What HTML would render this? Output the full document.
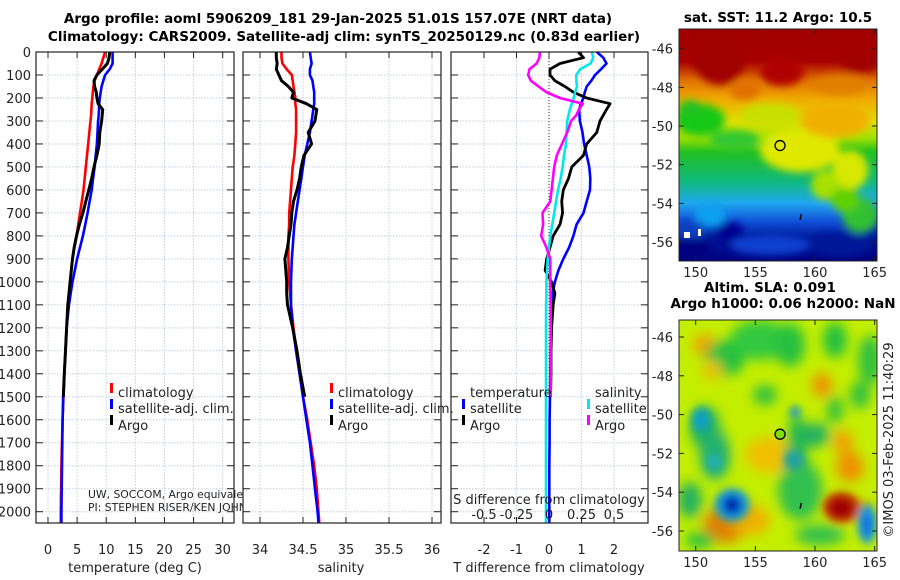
<!DOCTYPE html>
<html><head><meta charset="utf-8">
<style>
body{margin:0;background:#fff;}
svg{display:block;font-family:"DejaVu Sans","Liberation Sans",sans-serif;}
.t{font-size:13px;fill:#222;}
.b{font-size:13.5px;font-weight:bold;fill:#000;}
</style></head>
<body>
<svg id="fig" width="900" height="580" viewBox="0 0 900 580">
<defs>
<linearGradient id="sstg" x1="0" y1="0" x2="0" y2="1">
<stop offset="0" stop-color="#a00000"/><stop offset="0.14" stop-color="#a80000"/>
<stop offset="0.22" stop-color="#e07000"/><stop offset="0.3" stop-color="#f0a800"/>
<stop offset="0.4" stop-color="#e0e000"/><stop offset="0.47" stop-color="#a0e000"/>
<stop offset="0.53" stop-color="#20c020"/><stop offset="0.66" stop-color="#10b880"/>
<stop offset="0.75" stop-color="#20a8f0"/><stop offset="0.83" stop-color="#1050d8"/>
<stop offset="0.9" stop-color="#001898"/><stop offset="1" stop-color="#000080"/>
</linearGradient>
<filter id="blur4"><feGaussianBlur stdDeviation="4"/></filter>
<filter id="blur6"><feGaussianBlur stdDeviation="6"/></filter>
<clipPath id="clipA"><rect x="679" y="29" width="198" height="232"/></clipPath>
<clipPath id="clipB"><rect x="679" y="320" width="198" height="231"/></clipPath>
<clipPath id="clipCredit"><rect x="0" y="480" width="243" height="40"/></clipPath>
</defs>
<text class="b" x="338" y="23" text-anchor="middle">Argo profile: aoml 5906209_181 29-Jan-2025 51.01S 157.07E (NRT data)</text>
<text class="b" x="344" y="41" text-anchor="middle">Climatology: CARS2009. Satellite-adj clim: synTS_20250129.nc (0.83d earlier)</text>
<g id="plots"></g>
<g id="maps"></g>
</svg>
<script>
// ---- profile data (depth grid shared by all series) ----
const depths = [0,25,50,75,100,125,150,175,200,225,250,275,300,350,400,450,500,550,600,650,700,750,800,850,900,950,1000,1050,1100,1200,1300,1400,1500,1600,1700,1800,1900,2000,2050];
const tempClim = [9.8,9.5,9.2,8.8,8.4,8.0,7.8,7.7,7.6,7.5,7.45,7.4,7.3,7.1,6.9,6.7,6.5,6.3,6.1,5.8,5.5,5.2,4.9,4.5,4.2,4.0,3.8,3.65,3.5,3.2,3.0,2.8,2.6,2.5,2.4,2.3,2.25,2.2,2.2];
const tempSat = [11.1,11.1,11.1,10.6,9.8,9.5,9.2,9.05,8.9,8.8,8.75,8.7,8.6,8.5,8.4,8.2,8.0,7.75,7.5,7.15,6.8,6.4,6.0,5.5,5.0,4.6,4.2,3.9,3.6,3.2,3.0,2.8,2.65,2.5,2.45,2.4,2.35,2.3,2.3];
const tempArgo = [10.6,10.5,10.2,9.3,8.4,7.9,8.0,8.3,8.4,8.6,9.4,9.3,9.2,8.9,8.8,8.4,7.9,7.5,7.0,6.5,6.0,5.4,4.9,4.5,4.2,4.0,3.8,3.6,3.4,3.2,3.0,2.8,2.65,null,null,null,null,null,null];
const salClim = [34.25,34.25,34.26,34.31,34.37,34.38,34.39,34.40,34.41,34.41,34.42,34.42,34.42,34.42,34.41,34.40,34.38,34.37,34.36,34.35,34.34,34.34,34.33,34.33,34.33,34.335,34.34,34.35,34.36,34.39,34.42,34.46,34.50,34.55,34.59,34.63,34.66,34.68,34.69];
const salSat = [34.58,34.59,34.60,34.58,34.58,34.61,34.62,34.63,34.63,34.63,34.62,34.61,34.60,34.58,34.55,34.52,34.50,34.48,34.46,34.44,34.42,34.40,34.39,34.38,34.37,34.365,34.36,34.36,34.36,34.38,34.42,34.46,34.50,34.54,34.58,34.61,34.64,34.67,34.68];
const salArgo = [34.19,34.19,34.20,34.19,34.22,34.25,34.33,34.39,34.37,34.54,34.66,34.65,34.64,34.56,34.60,34.51,34.48,34.46,34.43,34.39,34.37,34.36,34.34,34.32,34.29,34.30,34.31,34.31,34.32,34.38,34.43,34.47,34.52,null,null,null,null,null,null];
// differences from climatology (as plotted)
const diffTSat = [1.47,1.67,1.77,1.6,1.42,1.3,1.16,1.1,1.06,0.98,0.93,0.94,0.95,1.03,1.08,1.16,1.24,1.27,1.26,1.16,1.06,0.85,0.75,0.62,0.44,0.29,0.18,0.11,0.08,0.06,0.05,0.04,0.03,0.02,0.02,0.01,0.01,0.01,0.01];
const diffTArgo = [0.9,1.06,0.34,0.03,0.03,0.18,0.49,0.75,1.16,1.88,1.77,1.67,1.57,1.47,1.16,1.06,0.70,0.6,0.44,0.39,0.42,0.34,0.13,0.03,-0.07,-0.12,0.08,0.18,0.13,0.08,0.06,0.06,0.05,null,null,null,null,null,null];
const diffSSat = [0.33,0.34,0.32,0.24,0.21,0.21,0.215,0.2,0.19,0.175,0.16,0.15,0.14,0.135,0.13,0.115,0.105,0.09,0.07,0.055,0.04,0.025,0.01,0.0,-0.01,-0.015,-0.02,-0.02,-0.022,-0.023,-0.023,-0.023,-0.023,-0.023,-0.023,-0.023,-0.023,-0.023,-0.023];
const diffSArgo = [-0.07,-0.075,-0.095,-0.15,-0.16,-0.14,-0.08,-0.02,0.085,0.26,0.23,0.21,0.17,0.14,0.1,0.06,0.04,0.03,0.02,0.01,-0.05,-0.045,-0.06,-0.02,0.01,0.01,0.01,0.012,0.013,0.013,0.013,0.013,0.013,null,null,null,null,null,null];
const depthTicks = [0,100,200,300,400,500,600,700,800,900,1000,1100,1200,1300,1400,1500,1600,1700,1800,1900,2000];
const tempTicks = [0,5,10,15,20,25,30];
const salTicks = [34,34.5,35,35.5,36];
const salTickLabels = ["34","34.5","35","35.5","36"];
const diffTTicks = [-2,-1,0,1,2];
const diffSTicks = [-0.5,-0.25,0,0.25,0.5];
const diffSTickLabels = ["-0.5","-0.25","0","0.25","0.5"];

const NS="http://www.w3.org/2000/svg";
const G=document.getElementById('plots');
function el(tag,attrs,parent){const e=document.createElementNS(NS,tag);for(const k in attrs)e.setAttribute(k,attrs[k]);(parent||G).appendChild(e);return e;}
const yD = d => 52 + d*0.22985;
const Y0=52, Y1=523;
const xT = v => 48 + v*5.823;
const xS = v => 260 + (v-34)*86;
const xDT = v => 549 + v*32.5;
const xDS = v => 549 + v*130;

function panel(x0,x1,name,xticks,xf,labels,vline){
  const g=el('g',{});
  
  
  el('rect',{x:x0,y:Y0,width:x1-x0,height:Y1-Y0,fill:'#fff'},g);
  depthTicks.forEach(d=>{
    el('line',{x1:x0,x2:x1,y1:yD(d),y2:yD(d),stroke:'#c8cde0','stroke-width':1,'stroke-dasharray':'1.5,1.5'},g);
    el('line',{x1:x0,x2:x0+7,y1:yD(d),y2:yD(d),stroke:'#222','stroke-width':1},g);
    el('line',{x1:x1-7,x2:x1,y1:yD(d),y2:yD(d),stroke:'#222','stroke-width':1},g);
  });
  xticks.forEach((v,i)=>{
    const x=xf(v);
    el('line',{x1:x,x2:x,y1:Y0,y2:Y1,stroke:'#c8cde0','stroke-width':1,'stroke-dasharray':'1.5,1.5'},g);
    el('line',{x1:x,x2:x,y1:Y1-6,y2:Y1,stroke:'#222'},g);
    el('line',{x1:x,x2:x,y1:Y0,y2:Y0+6,stroke:'#222'},g);
    const t=el('text',{x:x,y:554,'text-anchor':'middle',class:'t'},g);
    t.textContent=labels?labels[i]:String(v);
    
    
  });
  if(vline) el('line',{x1:xf(0),x2:xf(0),y1:Y0,y2:Y1,stroke:'#333','stroke-width':1,'stroke-dasharray':'1,2'},g);
  return g;
}
function series(vals,xf,color,name,w){
  let d='',pen=false;
  vals.forEach((v,i)=>{
    if(v===null||v===undefined){pen=false;return;}
    d+=(pen?'L':'M')+xf(v).toFixed(1)+','+yD(depths[i]).toFixed(1);pen=true;
  });
  const p=el('path',{d:d,fill:'none',stroke:color,'stroke-width':w||2.6,'stroke-linejoin':'round'});
  
  
}
function frame(x0,x1){el('rect',{x:x0,y:Y0,width:x1-x0,height:Y1-Y0,fill:'none',stroke:'#222','stroke-width':1.2});}
function txt(x,y,s,name,anchor,cls,parent){const t=el('text',{x:x,y:y,class:cls||'t','text-anchor':anchor||'start'},parent);t.textContent=s;return t;}
function legMark(x,y,color){const r=el('rect',{x:x,y:y-9,width:3,height:10,fill:color});}

// panel 1 temperature
panel(36,234,'temperature-panel',tempTicks,xT);
depthTicks.forEach(d=>{txt(31,yD(d)+5,String(d),'y-tick-label','end');});
series(tempClim,xT,'#ff0000','temp-climatology-line');
series(tempSat,xT,'#0000ff','temp-satellite-line');
series(tempArgo,xT,'#000000','temp-argo-line',3);
frame(36,234);
txt(135,572,'temperature (deg C)','x-axis-title-temperature','middle');
legMark(110,392,'#ff0000');txt(118,397,'climatology','legend-climatology');
legMark(110,408,'#0000ff');txt(118,413,'satellite-adj. clim.','legend-satellite');
legMark(110,424,'#000000');txt(118,430,'Argo','legend-argo');
const cg=el('g',{'clip-path':'url(#clipCredit)'});
const c1=txt(88,498,'UW, SOCCOM, Argo equivalent','credit-line-1','start','t',cg);c1.style.fontSize='10.8px';
const c2=txt(88,511,'PI: STEPHEN RISER/KEN JOHNSON','credit-line-2','start','t',cg);c2.style.fontSize='10.8px';

// panel 2 salinity
panel(243,441,'salinity-panel',salTicks,xS,salTickLabels);
series(salClim,xS,'#ff0000','sal-climatology-line');
series(salSat,xS,'#0000ff','sal-satellite-line');
series(salArgo,xS,'#000000','sal-argo-line',3);
frame(243,441);
txt(341,572,'salinity','x-axis-title-salinity','middle');

// panel 3 differences
panel(451,648,'difference-panel',diffTTicks,xDT,null,true);
series(diffTSat,xDT,'#0000ff','diff-temp-satellite-line');
series(diffTArgo,xDT,'#000000','diff-temp-argo-line',2.8);
series(diffSSat,xDS,'#00e8e8','diff-sal-satellite-line');
series(diffSArgo,xDS,'#ff00ff','diff-sal-argo-line');
frame(451,648);
legMark(330,392,'#ff0000');txt(338,397,'climatology','legend-climatology-2');
legMark(330,408,'#0000ff');txt(338,413,'satellite-adj. clim.','legend-satellite-2');
legMark(330,424,'#000000');txt(338,430,'Argo','legend-argo-2');
txt(470,397,'temperature','legend-temperature-heading');
legMark(462,408,'#0000ff');txt(470,413,'satellite','legend-diff-temp-satellite');
legMark(462,424,'#000000');txt(470,430,'Argo','legend-diff-temp-argo');
txt(595,397,'salinity','legend-salinity-heading');
legMark(587,408,'#00e8e8');txt(595,413,'satellite','legend-diff-sal-satellite');
legMark(587,424,'#ff00ff');txt(595,430,'Argo','legend-diff-sal-argo');
txt(549,504,'S difference from climatology','s-diff-axis-title','middle');
diffSTicks.forEach((v,i)=>{txt(xDS(v),519,diffSTickLabels[i],'s-diff-tick-label','middle');});
txt(549,572,'T difference from climatology','t-diff-axis-title','middle');

// ---- maps ----
const M=document.getElementById('maps');
const lonTicks=[150,155,160,165];
const latTicks=[-46,-48,-50,-52,-54,-56];
const mxF = lon => 679 + (lon-148.6)*11.93;
function mapAxes(y0,y1,latf,name){
  const g=el('g',{},M);
  
  
  el('rect',{x:679,y:y0,width:198,height:y1-y0,fill:'none',stroke:'#222','stroke-width':1},g);
  latTicks.forEach(l=>{const y=latf(l);
    el('line',{x1:679,x2:684,y1:y,y2:y,stroke:'#222'},g);el('line',{x1:872,x2:877,y1:y,y2:y,stroke:'#222'},g);
    const t=el('text',{x:673,y:y+5,'text-anchor':'end',class:'t'},g);t.textContent=String(l);
    });
  lonTicks.forEach(l=>{const x=mxF(l);
    el('line',{x1:x,x2:x,y1:y1-5,y2:y1,stroke:'#222'},g);el('line',{x1:x,x2:x,y1:y0,y2:y0+5,stroke:'#222'},g);
    const t=el('text',{x:x,y:y1+16,'text-anchor':'middle',class:'t'},g);t.textContent=String(l);
    });
}
// SST map
const myA = lat => 48.7 + (-46-lat)*19.33;
const gA=el('g',{'clip-path':'url(#clipA)'},M);


el('rect',{x:679,y:29,width:198,height:232,fill:'url(#sstg)'},gA);
const gAb=el('g',{filter:'url(#blur4)'},gA);
[[700,120,25,16,'#18c818'],[735,140,25,10,'#30c830'],[690,108,12,8,'#20c020'],
 [800,150,40,22,'#e0e800'],[835,120,35,18,'#f0b000'],[850,170,18,20,'#d8e800'],[825,185,14,15,'#a8e000'],
 [770,115,30,12,'#c8e000'],[860,215,18,18,'#30c030'],[845,200,14,12,'#60d000'],
 [710,215,16,12,'#10a0f0'],[690,230,16,10,'#1040c0'],[730,232,14,10,'#000090'],[690,250,20,12,'#000080'],[770,245,40,10,'#1040d0'],[840,245,30,12,'#001898'],
 [720,60,25,25,'#a00000'],[782,72,22,14,'#b00000'],[860,62,20,10,'#a00000'],[705,55,14,20,'#a00000'],[840,85,25,10,'#e08000'],[745,90,15,10,'#e07000']]
.forEach(b=>el('ellipse',{cx:b[0],cy:b[1],rx:b[2],ry:b[3],fill:b[4]},gAb));
el('rect',{x:684,y:232,width:6,height:6,fill:'#fff'},gA);
el('rect',{x:698,y:229,width:3,height:7,fill:'#fff'},gA);
el('circle',{cx:mxF(157.07),cy:myA(-51.01),r:5,fill:'none',stroke:'#000','stroke-width':1.3},gA);
el('line',{x1:mxF(158.75),y1:myA(-54.85),x2:mxF(158.85),y2:myA(-54.55),stroke:'#000','stroke-width':1.5},gA);
mapAxes(29,261,myA,'sst-map-axes');
txt(778,22,'sat. SST: 11.2 Argo: 10.5','sst-map-title','middle','b');

// SLA map
const myB = lat => 337 + (-46-lat)*19.4;
const gB=el('g',{'clip-path':'url(#clipB)'},M);


el('rect',{x:679,y:320,width:198,height:231,fill:'#c4ee00'},gB);
const gBb=el('g',{filter:'url(#blur6)'},gB);
[[705,345,12,10,'#f0a000'],[725,358,20,18,'#20c040'],[760,340,30,20,'#30c840'],[790,345,15,22,'#28c040'],[835,340,12,18,'#20c040'],[870,360,12,25,'#30c040'],[822,385,10,12,'#f09000'],[705,428,15,22,'#20b060'],[715,455,15,25,'#20b070'],[770,455,25,18,'#f0c000'],[797,445,10,30,'#20b850'],[815,435,15,12,'#20b060'],[843,442,10,12,'#f0a000'],[850,467,14,15,'#f09000'],[800,490,22,30,'#30c050'],[850,510,20,10,'#e08000'],[690,500,12,18,'#20b060'],[725,525,22,18,'#e08000'],[750,520,20,15,'#f0b000'],[820,535,25,10,'#30c050'],[700,540,15,8,'#20c040'],[712,370,10,10,'#e8c000'],[765,395,12,10,'#30c040'],[835,410,8,14,'#30c040'],[860,395,10,14,'#30c040']]
.forEach(b=>el('ellipse',{cx:b[0],cy:b[1],rx:b[2],ry:b[3],fill:b[4]},gBb));
const gBc=el('g',{filter:'url(#blur4)'},gB);
[[732,505,18,17,'#20a0c0'],[732,505,11,11,'#0060e0'],[732,505,6,6,'#000090'],[841,507,18,15,'#c03000'],[841,508,12,10,'#a00000'],[867,524,10,20,'#20a0d0'],[867,524,5,12,'#1070e0'],[701,420,9,12,'#10a0c0'],[714,462,8,8,'#20b0b0'],[794,460,10,10,'#20a0a0'],[795,412,5,6,'#1090d0']]
.forEach(b=>el('ellipse',{cx:b[0],cy:b[1],rx:b[2],ry:b[3],fill:b[4]},gBc));
el('circle',{cx:mxF(157.07),cy:myB(-51.01),r:5,fill:'#80e000',stroke:'#000','stroke-width':1.3},gB);
el('line',{x1:mxF(158.75),y1:myB(-54.85),x2:mxF(158.85),y2:myB(-54.55),stroke:'#000','stroke-width':1.5},gB);
mapAxes(320,551,myB,'sla-map-axes');
txt(770,292,'Altim. SLA: 0.091','sla-map-title','middle','b');
txt(783,308,'Argo h1000: 0.06 h2000: NaN','sla-map-subtitle','middle','b');
const v=txt(0,0,'©IMOS 03-Feb-2025 11:40:29','timestamp-label','middle');
v.setAttribute('transform','translate(893,440) rotate(-90)');
</script>
</body></html>
